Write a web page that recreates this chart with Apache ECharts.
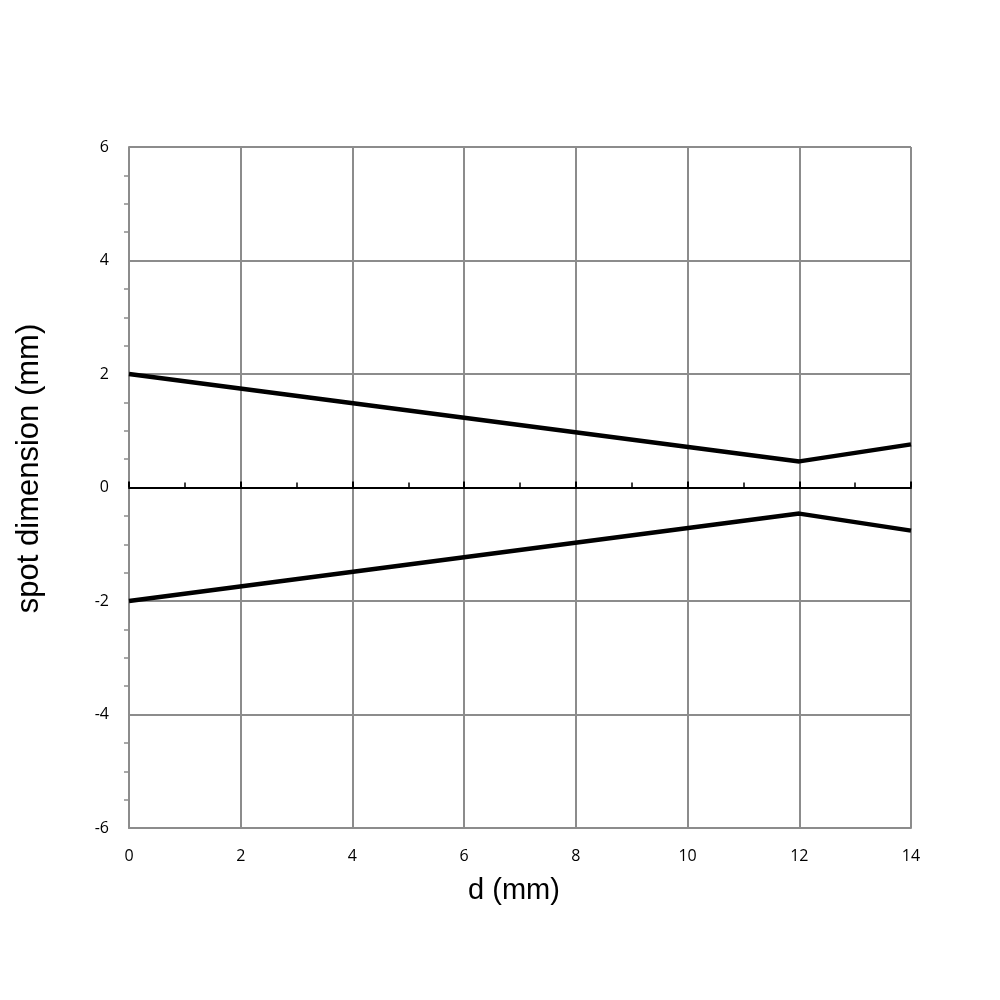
<!DOCTYPE html>
<html>
<head>
<meta charset="utf-8">
<script src="https://cdn.jsdelivr.net/npm/echarts@6/dist/echarts.min.js"></script>
<style>html,body{margin:0;padding:0;background:#fff}#c{width:1000px;height:1000px}</style>
</head>
<body>
<div id="c"></div>
<script>
const upperX = [0, 12, 14];
const upperY = [2, 0.46, 0.76];
const lowerX = [0, 12, 14];
const lowerY = [-2, -0.46, -0.76];
const xTicks = [0, 2, 4, 6, 8, 10, 12, 14];
const yTicks = [-6, -4, -2, 0, 2, 4, 6];

const grid = '#8c8c8c';
const chart = echarts.init(document.getElementById('c'));
chart.setOption({
  animation: false,
  backgroundColor: '#fff',
  grid: {left: 129, right: 89, top: 147, bottom: 172},
  xAxis: [{
    type: 'value', min: xTicks[0], max: xTicks[xTicks.length - 1], interval: 2,
    position: 'bottom',
    axisLine: {show: true, onZero: false, lineStyle: {color: grid, width: 2}},
    axisTick: {show: false},
    axisLabel: {margin: 20, color: '#000', fontFamily: 'Open Sans', fontSize: 16},
    splitLine: {show: true, lineStyle: {color: grid, width: 2}},
    name: 'd (mm)', nameLocation: 'middle', nameGap: 48,
    nameTextStyle: {fontFamily: 'Liberation Sans', fontSize: 29, color: '#000', padding: [0, 12, 0, 0]}
  }, {
    type: 'value', min: xTicks[0], max: xTicks[xTicks.length - 1], interval: 2,
    position: 'bottom',
    axisLine: {show: true, onZero: true, lineStyle: {color: '#000', width: 2}},
    axisTick: {show: true, inside: true, length: 6, lineStyle: {color: '#000', width: 2}},
    minorTick: {show: true, splitNumber: 2, length: 5, lineStyle: {color: '#000', width: 1.5}},
    axisLabel: {show: false},
    splitLine: {show: false}
  }],
  yAxis: {
    type: 'value', min: yTicks[0], max: yTicks[yTicks.length - 1], interval: 2,
    axisLine: {show: true, lineStyle: {color: grid, width: 2}},
    axisTick: {show: false},
    minorTick: {show: true, splitNumber: 4, length: 5, lineStyle: {color: grid, width: 1.5}},
    axisLabel: {margin: 20, color: '#000', fontFamily: 'Open Sans', fontSize: 16},
    splitLine: {show: true, lineStyle: {color: grid, width: 2}},
    name: 'spot dimension (mm)', nameLocation: 'middle', nameGap: 84,
    nameTextStyle: {fontFamily: 'Liberation Sans', fontSize: 31, color: '#000', padding: [0, 0, 0, 38]}
  },
  series: [{
    type: 'line', xAxisIndex: 0, data: upperX.map((x, i) => [x, upperY[i]]),
    showSymbol: false, lineStyle: {color: '#000', width: 4.5}, z: 5
  }, {
    type: 'line', xAxisIndex: 0, data: lowerX.map((x, i) => [x, lowerY[i]]),
    showSymbol: false, lineStyle: {color: '#000', width: 4.5}, z: 5
  }]
});
</script>
</body>
</html>
